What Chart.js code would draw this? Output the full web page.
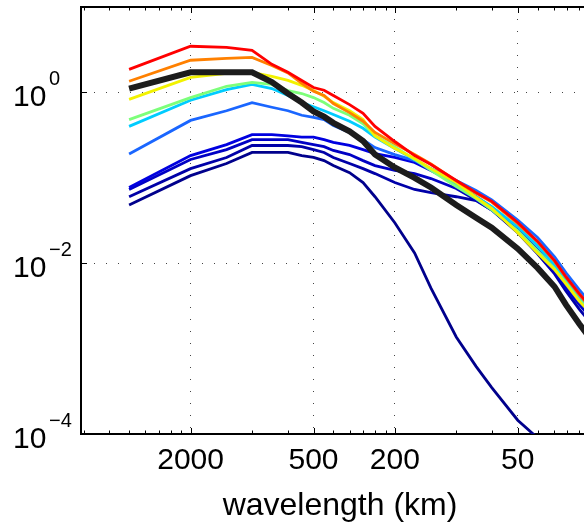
<!DOCTYPE html>
<html>
<head>
<meta charset="utf-8">
<script src="https://cdn.jsdelivr.net/npm/chart.js@4/dist/chart.umd.min.js"></script>
<style>
  html, body { margin: 0; padding: 0; background: #fff; overflow: hidden; }
  #wrap { width: 600px; height: 522px; }
</style>
</head>
<body>
<div id="wrap"><canvas id="spectra" width="600" height="522"></canvas></div>
<script>
// wavelength (km) of each spectral point
const wavelength = [4000, 2000, 1333, 1000, 800, 667, 571, 500, 444, 400, 333, 286, 250,
                    200, 160, 133, 100, 80, 67, 50, 40, 33, 29, 25, 22, 20];

// axis ticks
const xMajor = [2000, 500, 200, 50];
const xMinor = [6667, 5000, 4000, 3333, 2857, 2500, 2222, 1000, 667, 400, 333, 286, 250, 222,
                100, 66.7, 40, 33.3, 28.6, 25, 22.2];
const yMajor = [1e-4, 1e-2, 1];
const yExp = ['\u22124', '\u22122', '0'];

// spectra, one array per curve
const red    = [1.86, 3.47, 3.37, 3.1, 2.13, 1.72, 1.38, 1.14, 1.06, 0.92, 0.72, 0.57, 0.40,
                0.266, 0.182, 0.143, 0.093, 0.067, 0.053, 0.030, 0.018, 0.0107, 0.0069, 0.0044, 0.0031, 0.0023];
const orange = [1.35, 2.38, 2.5, 2.57, 2.07, 1.69, 1.28, 1.03, 0.92, 0.74, 0.58, 0.46, 0.34,
                0.25, 0.187, 0.145, 0.092, 0.066, 0.052, 0.029, 0.0178, 0.0105, 0.0068, 0.0043, 0.003, 0.0022];
const yellow = [0.83, 1.5, 1.67, 1.72, 1.54, 1.38, 1.21, 1.05, 0.9, 0.76, 0.61, 0.48, 0.31,
                0.22, 0.168, 0.128, 0.088, 0.059, 0.044, 0.0227, 0.0132, 0.0084, 0.0057, 0.0036, 0.0026, 0.002];
const green  = [0.48, 0.87, 1.18, 1.31, 1.24, 1.05, 0.97, 0.87, 0.76, 0.65, 0.54, 0.43, 0.31,
                0.23, 0.164, 0.122, 0.079, 0.057, 0.042, 0.024, 0.014, 0.0086, 0.0059, 0.0037, 0.0027, 0.002];
const cyan   = [0.40, 0.81, 1.08, 1.24, 1.11, 0.92, 0.76, 0.68, 0.61, 0.55, 0.46, 0.38, 0.30,
                0.22, 0.164, 0.128, 0.085, 0.060, 0.046, 0.0267, 0.016, 0.0096, 0.0064, 0.004, 0.0029, 0.0022];
const blue   = [0.19, 0.47, 0.61, 0.76, 0.67, 0.61, 0.54, 0.51, 0.48, 0.41, 0.34, 0.28, 0.226,
                0.187, 0.159, 0.128, 0.093, 0.071, 0.055, 0.032, 0.020, 0.0119, 0.0077, 0.0049, 0.0034, 0.0025];
const dark1  = [0.077, 0.182, 0.245, 0.32, 0.32, 0.31, 0.30, 0.30, 0.28, 0.26, 0.24, 0.214, 0.192,
                0.173, 0.151, 0.122, 0.085, 0.060, 0.045, 0.025, 0.0144, 0.0086, 0.0056, 0.0035, 0.0025, 0.0018];
const dark2  = [0.073, 0.164, 0.214, 0.28, 0.28, 0.28, 0.26, 0.245, 0.232, 0.209, 0.187, 0.159, 0.139,
                0.122, 0.112, 0.098, 0.075, 0.055, 0.042, 0.0234, 0.0132, 0.0079, 0.0051, 0.0033, 0.0023, 0.0017];
const dark3  = [0.060, 0.128, 0.173, 0.239, 0.239, 0.239, 0.232, 0.214, 0.198, 0.173, 0.147, 0.128, 0.112,
                0.088, 0.073, 0.067, 0.060, 0.054, 0.042, 0.0227, 0.0129, 0.0075, 0.0047, 0.0029, 0.002, 0.0015];
const navy   = [0.048, 0.106, 0.147, 0.198, 0.198, 0.198, 0.182, 0.173, 0.159, 0.139, 0.115, 0.088, 0.060,
                0.0298, 0.0132, 0.0051, 0.00137, 0.00062, 0.00035, 0.000145, 0.00009, 0.00007, 0.00006, 0.00005, 0.00004, 0.00003];
const total  = [1.11, 1.72, 1.72, 1.72, 1.32, 0.97, 0.76, 0.60, 0.52, 0.44, 0.35, 0.27, 0.187,
                0.132, 0.100, 0.077, 0.048, 0.034, 0.026, 0.0148, 0.0088, 0.0053, 0.00325, 0.00195, 0.0013, 0.00094];

const FONT = '"Liberation Sans", Arial, Helvetica, sans-serif';

function series(values, color, width) {
  return {
    data: values.map((v, i) => ({ x: wavelength[i], y: v })),
    borderColor: color,
    borderWidth: width || 2.8,
    pointRadius: 0,
    tension: 0,
    fill: false
  };
}

// top axis, inward ticks and 10^n labels (MATLAB style)
const axisDecor = {
  id: 'axisDecor',
  afterDraw(chart) {
    const { ctx, chartArea: a, scales: { x, y } } = chart;
    ctx.save();
    ctx.strokeStyle = '#000';
    ctx.lineWidth = 2;
    ctx.beginPath();
    ctx.moveTo(a.left - 1, a.top);
    ctx.lineTo(a.right + 1, a.top);
    ctx.stroke();

    ctx.lineWidth = 1;
    const xTick = (v, len) => {
      const px = Math.round(x.getPixelForValue(v)) + 0.5;
      ctx.beginPath();
      ctx.moveTo(px, a.bottom); ctx.lineTo(px, a.bottom - len);
      ctx.moveTo(px, a.top); ctx.lineTo(px, a.top + len);
      ctx.stroke();
    };
    xMajor.forEach(v => xTick(v, 6));
    xMinor.forEach(v => xTick(v, 3.5));
    yMajor.forEach(v => {
      const py = Math.round(y.getPixelForValue(v)) + 0.5;
      ctx.beginPath();
      ctx.moveTo(a.left, py); ctx.lineTo(a.left + 6, py);
      ctx.stroke();
    });

    ctx.fillStyle = '#000';
    ctx.textAlign = 'left';
    ctx.textBaseline = 'alphabetic';
    yMajor.forEach((v, i) => {
      const py = y.getPixelForValue(v);
      ctx.font = '30px ' + FONT;
      ctx.fillText('10', 13, py + 14);
      ctx.font = '20px ' + FONT;
      ctx.fillText(yExp[i], 49, py - 7);
    });
    ctx.restore();
  }
};

new Chart(document.getElementById('spectra'), {
  type: 'line',
  data: {
    datasets: [
      series(total, '#1c1c1c', 6),
      series(red, '#ff0000'),
      series(orange, '#ff8000'),
      series(yellow, '#f2f200'),
      series(green, '#7dff7a'),
      series(cyan, '#00ccff'),
      series(blue, '#1a66ff'),
      series(dark1, '#0000e0'),
      series(dark2, '#0000c4'),
      series(dark3, '#0000a8'),
      series(navy, '#00008c')
    ]
  },
  options: {
    responsive: false,
    animation: false,
    events: [],
    layout: { padding: { top: 7, right: 1, left: 0, bottom: 0 } },
    plugins: { legend: { display: false }, tooltip: { enabled: false } },
    scales: {
      x: {
        type: 'logarithmic',
        reverse: true,
        min: 20,
        max: 6880,
        afterBuildTicks: scale => { scale.ticks = xMajor.map(v => ({ value: v })); },
        afterFit: scale => { scale.height = 88; },
        ticks: {
          autoSkip: false,
          maxRotation: 0,
          padding: 9,
          color: '#000',
          font: { family: FONT, size: 30 },
          callback: v => String(v)
        },
        grid: { color: '#444', lineWidth: 1, drawTicks: false },
        border: { display: true, color: '#000', width: 2, dash: [1, 11] },
        title: {
          display: true,
          text: 'wavelength (km)',
          color: '#000',
          font: { family: FONT, size: 32, lineHeight: 1.0 },
          padding: { top: 0, bottom: 0 }
        }
      },
      y: {
        type: 'logarithmic',
        min: 1e-4,
        max: 10,
        afterBuildTicks: scale => { scale.ticks = yMajor.map(v => ({ value: v })); },
        afterFit: scale => { scale.width = 81; },
        ticks: { display: false },
        grid: { color: '#444', lineWidth: 1, drawTicks: false },
        border: { display: true, color: '#000', width: 2, dash: [1, 11] }
      }
    }
  },
  plugins: [axisDecor]
});
</script>
</body>
</html>
